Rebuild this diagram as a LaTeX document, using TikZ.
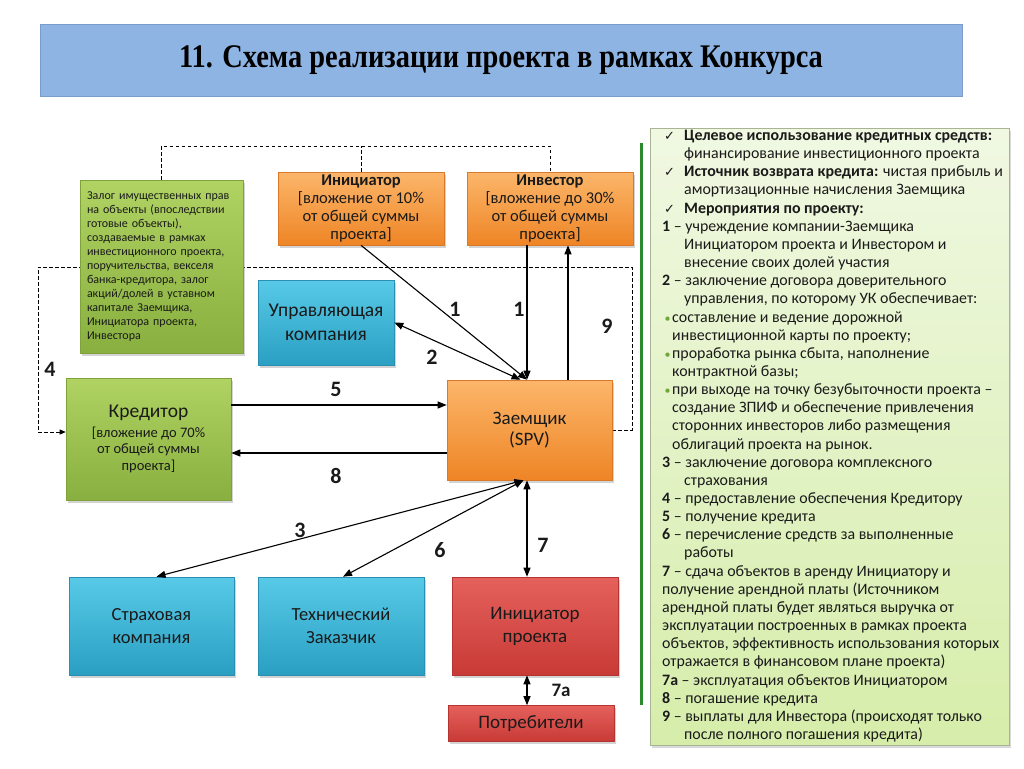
\documentclass[tikz,border=0pt]{standalone}
\usepackage{fontspec}
\usepackage{graphicx}
\setmainfont{Carlito}
\newfontfamily\titlefont{Liberation Serif}
\newfontfamily\symfont{DejaVu Sans}
\usetikzlibrary{arrows.meta,shadows,backgrounds,calc}

\definecolor{orT}{HTML}{FCB66A}
\definecolor{orB}{HTML}{EE8526}
\definecolor{orD}{HTML}{D97A2A}
\definecolor{blT}{HTML}{58CAE8}
\definecolor{blB}{HTML}{2A9FC2}
\definecolor{blD}{HTML}{2A8FB0}
\definecolor{grT}{HTML}{B0D363}
\definecolor{grB}{HTML}{88AF3F}
\definecolor{grD}{HTML}{7FA23A}
\definecolor{rdT}{HTML}{E5615C}
\definecolor{rdB}{HTML}{C83A36}
\definecolor{rdD}{HTML}{B53330}
\definecolor{titleblue}{HTML}{8DB4E2}
\definecolor{titleedge}{HTML}{7A9CC8}
\definecolor{panT}{HTML}{F0F8E2}
\definecolor{panB}{HTML}{D6EDAA}
\definecolor{panD}{HTML}{A8B494}
\definecolor{greenline}{HTML}{2C8A2C}
\definecolor{bulgreen}{HTML}{6FA83A}
\definecolor{txt}{HTML}{1A1A1A}

\newcommand\pck{\makebox[22pt][l]{\hspace{2pt}{\symfont\fontsize{13}{13}\selectfont ✓}}}
\newcommand\pind{\hspace*{22pt}}
\newcommand\pbul{\makebox[10pt][l]{\hspace{2.5pt}\textcolor{bulgreen}{\fontsize{12}{12}\selectfont •}}}
\newcommand\pbind{\hspace*{10pt}}

\tikzset{
  shbox/.style={line width=0.6pt, inner sep=0pt, align=center, text=txt,
    drop shadow={opacity=0.35, shadow xshift=2pt, shadow yshift=-2.5pt}},
  orangebox/.style={shbox, top color=orT, bottom color=orB, draw=orD},
  bluebox/.style={shbox, top color=blT, bottom color=blB, draw=blD},
  greenbox/.style={shbox, top color=grT, bottom color=grB, draw=grD},
  redbox/.style={shbox, top color=rdT, bottom color=rdB, draw=rdD},
  conn/.style={line width=1.1pt, black},
  tip/.style={-{Triangle[length=9pt,width=7pt]}},
  dtip/.style={{Triangle[length=9pt,width=7pt]}-{Triangle[length=9pt,width=7pt]}},
  dashline/.style={line width=0.8pt, black, dash pattern=on 3.5pt off 2.5pt},
  lbl/.style={font=\bfseries\fontsize{22}{22}\selectfont, text=txt, inner sep=0pt},
}

\begin{document}
\begin{tikzpicture}[x=1pt, y=-1pt]
\useasboundingbox (0,0) rectangle (1024,768);

% title
\node[draw=titleedge, fill=titleblue, line width=0.6pt, minimum width=922pt, minimum height=72pt, inner sep=0pt] (title) at (501,60)
  {\scalebox{0.86}[1]{\titlefont\bfseries\fontsize{33}{33}\selectfont 11. Схема реализации проекта в рамках Конкурса}};

% nodes
\node[greenbox, minimum width=163pt, minimum height=173pt, text width=149pt, align=left,
  font=\fontsize{12}{14}\selectfont] (pledge) at (161.5,266.5)
  {Залог имущественных прав\\на объекты (впоследствии\\готовые объекты),\\создаваемые в рамках\\инвестиционного проекта,\\поручительства, векселя\\банка-кредитора, залог\\акций/долей в уставном\\капитале Заемщика,\\Инициатора проекта,\\Инвестора};

\node[orangebox, minimum width=166pt, minimum height=73pt, font=\fontsize{16.5}{17.8}\selectfont] (ini) at (361,208.5)
  {\textbf{Инициатор}\\{[}вложение от 10\%\\от общей суммы\\проекта]};
\node[orangebox, minimum width=166pt, minimum height=73pt, font=\fontsize{16.5}{17.8}\selectfont] (inv) at (550,208.5)
  {\textbf{Инвестор}\\{[}вложение до 30\%\\от общей суммы\\проекта]};

\node[bluebox, minimum width=136pt, minimum height=85pt, font=\fontsize{19.5}{24.5}\selectfont] (upr) at (326,322.5)
  {Управляющая\\компания};

\node[greenbox, minimum width=165pt, minimum height=122pt, font=\fontsize{14.5}{16.5}\selectfont] (kred) at (148.5,439)
  {{\fontsize{19.5}{19.5}\selectfont Кредитор}\\[3pt]{[}вложение до 70\%\\от общей суммы\\проекта]};

\node[orangebox, minimum width=165pt, minimum height=100pt, font=\fontsize{19}{21}\selectfont] (spv) at (529.5,430)
  {Заемщик\\(SPV)};

\node[bluebox, minimum width=165pt, minimum height=98pt, font=\fontsize{18.5}{23}\selectfont] (strah) at (151.5,626)
  {Страховая\\компания};
\node[bluebox, minimum width=166pt, minimum height=98pt, font=\fontsize{18.5}{23}\selectfont] (tech) at (341,626)
  {Технический\\Заказчик};
\node[redbox, minimum width=166pt, minimum height=98pt, font=\fontsize{19}{23}\selectfont] (inip) at (535,626)
  {Инициатор\\проекта};
\node[redbox, minimum width=166pt, minimum height=36pt, font=\fontsize{19}{20}\selectfont] (potr) at (531,723.5)
  {Потребители};

% right panel
\node[draw=panD, line width=0.6pt, top color=panT, bottom color=panB, minimum width=359pt, minimum height=617pt, inner sep=0pt,
  drop shadow={opacity=0.3, shadow xshift=2pt, shadow yshift=-2.5pt}] (panel) at (829.5,436.5) {};
\node[anchor=north west, inner sep=0pt, align=left, text=txt, font=\fontsize{15.9}{18.15}\selectfont] (ptext) at (662,130)
  {\pck\textbf{Целевое использование кредитных средств:}\\
   \pind финансирование инвестиционного проекта\\
   \pck\textbf{Источник возврата кредита:} чистая прибыль и\\
   \pind амортизационные начисления Заемщика\\
   \pck\textbf{Мероприятия по проекту:}\\
   \textbf{1} – учреждение компании-Заемщика\\
   \pind Инициатором проекта и Инвестором и\\
   \pind внесение своих долей участия\\
   \textbf{2} – заключение договора доверительного\\
   \pind управления, по которому УК обеспечивает:\\
   \pbul составление и ведение дорожной\\
   \pbind инвестиционной карты по проекту;\\
   \pbul проработка рынка сбыта, наполнение\\
   \pbind контрактной базы;\\
   \pbul при выходе на точку безубыточности проекта –\\
   \pbind создание ЗПИФ и обеспечение привлечения\\
   \pbind сторонних инвесторов либо размещения\\
   \pbind облигаций проекта на рынок.\\
   \textbf{3} – заключение договора комплексного\\
   \pind страхования\\
   \textbf{4} – предоставление обеспечения Кредитору\\
   \textbf{5} – получение кредита\\
   \textbf{6} – перечисление средств за выполненные\\
   \pind работы\\
   \textbf{7} – сдача объектов в аренду Инициатору и\\
   получение арендной платы (Источником\\
   арендной платы будет являться выручка от\\
   эксплуатации построенных в рамках проекта\\
   объектов, эффективность использования которых\\
   отражается в финансовом плане проекта)\\
   \textbf{7а} – эксплуатация объектов Инициатором\\
   \textbf{8} – погашение кредита\\
   \textbf{9} – выплаты для Инвестора (происходят только\\
   \pind после полного погашения кредита)};

% green separator line
\coordinate (gl1) at (641,143);
\coordinate (gl2) at (641,705);
\draw[line width=3pt, greenline] (gl1) -- (gl2);

% dashed connectors (behind boxes)
\begin{scope}[on background layer]
  \coordinate (dtop) at (161.5,146);
  \coordinate (dl) at (38,267);
  \coordinate (dr) at (632,267);
  \draw[dashline] (pledge.north) -- (dtop) -| (inv.north);
  \draw[dashline] (ini.north) -- (ini.north |- dtop);
  \draw[dashline, -{Triangle[length=6pt,width=5pt]}] (spv.east) -| (dr) -- (dl) |- ($(kred.west)+(0,-7)$);
\end{scope}

% connectors
\coordinate (spvA) at ($(spv.north)+(-2.5,0)$);
\coordinate (spv9) at ($(spv.north)+(38.5,0)$);
\coordinate (k5) at ($(kred.east)+(0,-34)$);
\coordinate (k8) at ($(kred.east)+(0,14)$);
\draw[conn, tip] (ini.south) -- (spvA);
\draw[conn, tip] (spvA |- inv.south) -- (spvA);
\draw[conn, tip] (spv9) -- (spv9 |- inv.south);
\draw[conn, dtip] (upr.east) -- ($(spv.north)+(-9,0)$);
\draw[conn, tip] (k5) -- (spv.west |- k5);
\draw[conn, tip] (spv.west |- k8) -- (k8);
\draw[conn, dtip] ($(spv.south)+(-6,0)$) -- ($(strah.north)+(5,0)$);
\draw[conn, dtip] ($(spv.south)+(-6,0)$) -- ($(tech.north)+(2,0)$);
\coordinate (s7) at ($(spv.south)+(-2.5,0)$);
\draw[conn, dtip] (s7) -- (s7 |- inip.north);
\draw[conn, dtip] (s7 |- inip.south) -- (s7 |- potr.north);

% labels
\node[lbl] (l4) at (50,369) {4};
\node[lbl] (l1a) at (455,309) {1};
\node[lbl] (l1b) at (519,309) {1};
\node[lbl] (l9) at (607,326) {9};
\node[lbl] (l2) at (432,357) {2};
\node[lbl] (l5) at (336,389) {5};
\node[lbl] (l8) at (336,476) {8};
\node[lbl] (l3) at (300,530) {3};
\node[lbl] (l6) at (440,550) {6};
\node[lbl] (l7) at (543,545) {7};
\node[lbl, font=\bfseries\fontsize{19}{19}\selectfont] (l7a) at (561,690) {7а};
\end{tikzpicture}
\end{document}
